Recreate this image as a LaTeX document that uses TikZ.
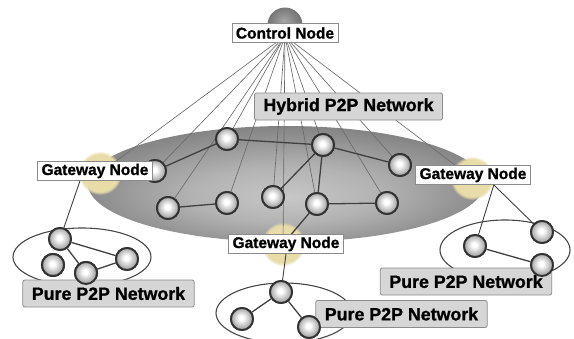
\documentclass[tikz,border=0pt]{standalone}
\usepackage{fontspec}
\setmainfont{Liberation Sans}
\newfontfamily\labelfont{Liberation Sans Bold}[FakeBold=1.1]
\usetikzlibrary{fadings,calc}

\definecolor{glowc}{RGB}{232,220,168}
\pgfdeclareradialshading{peerball}{\pgfpoint{-2bp}{3bp}}{color(0bp)=(white); color(5bp)=(white); color(22bp)=(black!32); color(38bp)=(black!58); color(50bp)=(black!70)}
\pgfdeclareradialshading{hubball}{\pgfpoint{-2bp}{6bp}}{color(0bp)=(black!35); color(20bp)=(black!52); color(50bp)=(black!72)}
\pgfdeclareradialshading{cloudfill}{\pgfpoint{0bp}{-6bp}}{color(0bp)=(black!22); color(12bp)=(black!30); color(34bp)=(black!56); color(50bp)=(black!68)}

\tikzset{
  peer/.style={circle, minimum size=22pt, inner sep=0pt, draw=black!80, line width=1.9pt, shading=peerball},
  link/.style={draw=black!75, line width=1.3pt},
  uplink/.style={draw=black!58, line width=0.65pt},
  ring/.style={draw=black!72, line width=1.1pt},
  glow/.style={circle, minimum size=44pt, inner sep=0pt, fill=glowc, path fading=circle with fuzzy edge 15 percent},
  tag/.style={draw=black!45, fill=white, line width=0.8pt, inner xsep=4pt, inner ysep=0pt, minimum height=19pt,
    font=\fontsize{15.5}{18}\labelfont},
  banner/.style={draw=black!45, fill=black!16, line width=0.8pt, rounded corners=2pt, inner xsep=9pt, inner ysep=0pt,
    minimum height=27pt, font=\fontsize{17.8}{21}\labelfont},
}

\begin{document}
\begin{tikzpicture}[x=1pt,y=-1pt]
\useasboundingbox (0,0) rectangle (574,338);

% hybrid network area
\shade[shading=cloudfill] (286,184) ellipse [x radius=198, y radius=58];

% pure P2P network areas
\draw[ring] (82,257) ellipse [x radius=69, y radius=29];
\draw[ring] (505,250) ellipse [x radius=65, y radius=30];
\draw[ring] (284,313) ellipse [x radius=68, y radius=30];

% gateway glows
\node[glow] (gwL) at (100,173) {};
\node[glow] (gwR) at (472,178) {};
\node[glow] (gwB) at (283,244) {};

% hybrid peers
\node[peer] (h1) at (227,139) {};
\node[peer] (h2) at (323,145) {};
\node[peer] (h3) at (400,165) {};
\node[peer] (h4) at (155,171) {};
\node[peer] (h5) at (168,208) {};
\node[peer] (h6) at (227,203) {};
\node[peer] (h7) at (273,197) {};
\node[peer] (h8) at (317,204) {};
\node[peer] (h9) at (387,203) {};

% control node and its fan of links
\node[circle, minimum size=35pt, inner sep=0pt, shading=hubball] (ctrl) at (285,25) {};
\coordinate (hub) at (285,36);
\foreach \t in {h1,h2,h3,h4,h5,h6,h7,h8,h9,gwL,gwR,gwB}
  \draw[uplink] (hub) -- (\t.center);

% links inside the hybrid network
\draw[link] (h4) -- (h1);
\draw[link] (h1) -- (h2);
\draw[link] (h2) -- (h3);
\draw[link] (h2) -- (h7);
\draw[link] (h2) -- (h8);
\draw[link] (h5) -- (h6);
\draw[link] (h8) -- (h9);
\draw[link] (h8) -- (gwB.center);

% hybrid peers again, above the links
\foreach \p in {h1,h2,h3,h4,h5,h6,h7,h8,h9}
  \node[peer] at (\p) {};

% gateway labels
\node[tag] (gwLtag) at (95,171) {Gateway Node};
\node[tag] (gwRtag) at (473,175) {Gateway Node};
\node[tag] (gwBtag) at (286,244) {Gateway Node};

% pure networks: peers
\node[peer] (a1) at (60,239) {};
\node[peer] (a2) at (53,265) {};
\node[peer] (a3) at (86,273) {};
\node[peer] (a4) at (127,259) {};
\node[peer] (b1) at (475,246) {};
\node[peer] (b2) at (542,232) {};
\node[peer] (b3) at (542,265) {};
\node[peer] (c1) at (281,292) {};
\node[peer] (c2) at (242,319) {};
\node[peer] (c3) at (309,327) {};

\coordinate (gLout) at ($(gwLtag.south west)!0.37!(gwLtag.south east)$);
\coordinate (gRout) at ($(gwRtag.south west)!0.68!(gwRtag.south east)$);
\coordinate (gBout) at (gwBtag.south);

\draw[link,line width=0.9pt] (gLout) -- (a1);
\draw[link] (a1) -- (a4);
\draw[link] (a1) -- (a3);
\draw[link] (a3) -- (a4);
\draw[link,line width=0.9pt] (gRout) -- (b1);
\draw[link,line width=0.9pt] (gRout) -- (b2);
\draw[link] (b1) -- (b3);
\draw[link,line width=0.9pt] (gBout) -- (c1);
\draw[link] (c1) -- (c2);
\draw[link] (c1) -- (c3);

% pure peers again, above their links
\foreach \p in {a1,a2,a3,a4,b1,b2,c1,c2}
  \node[peer] at (\p) {};

% banners
\node[banner] (hyb) at (348.5,106.5) {Hybrid P2P Network};
\node[banner] (pureL) at (108.5,293.5) {Pure P2P Network};
\node[banner] (pureR) at (466,281.5) {Pure P2P Network};
\node[banner] (pureB) at (401.5,314) {Pure P2P Network};

% peers that sit in front of the banners
\node[peer] at (a2) {};
\node[peer] at (a3) {};
\node[peer] at (b3) {};
\node[peer] at (c3) {};

\node[tag] (ctrltag) at (285,33) {Control Node};
\end{tikzpicture}
\end{document}
